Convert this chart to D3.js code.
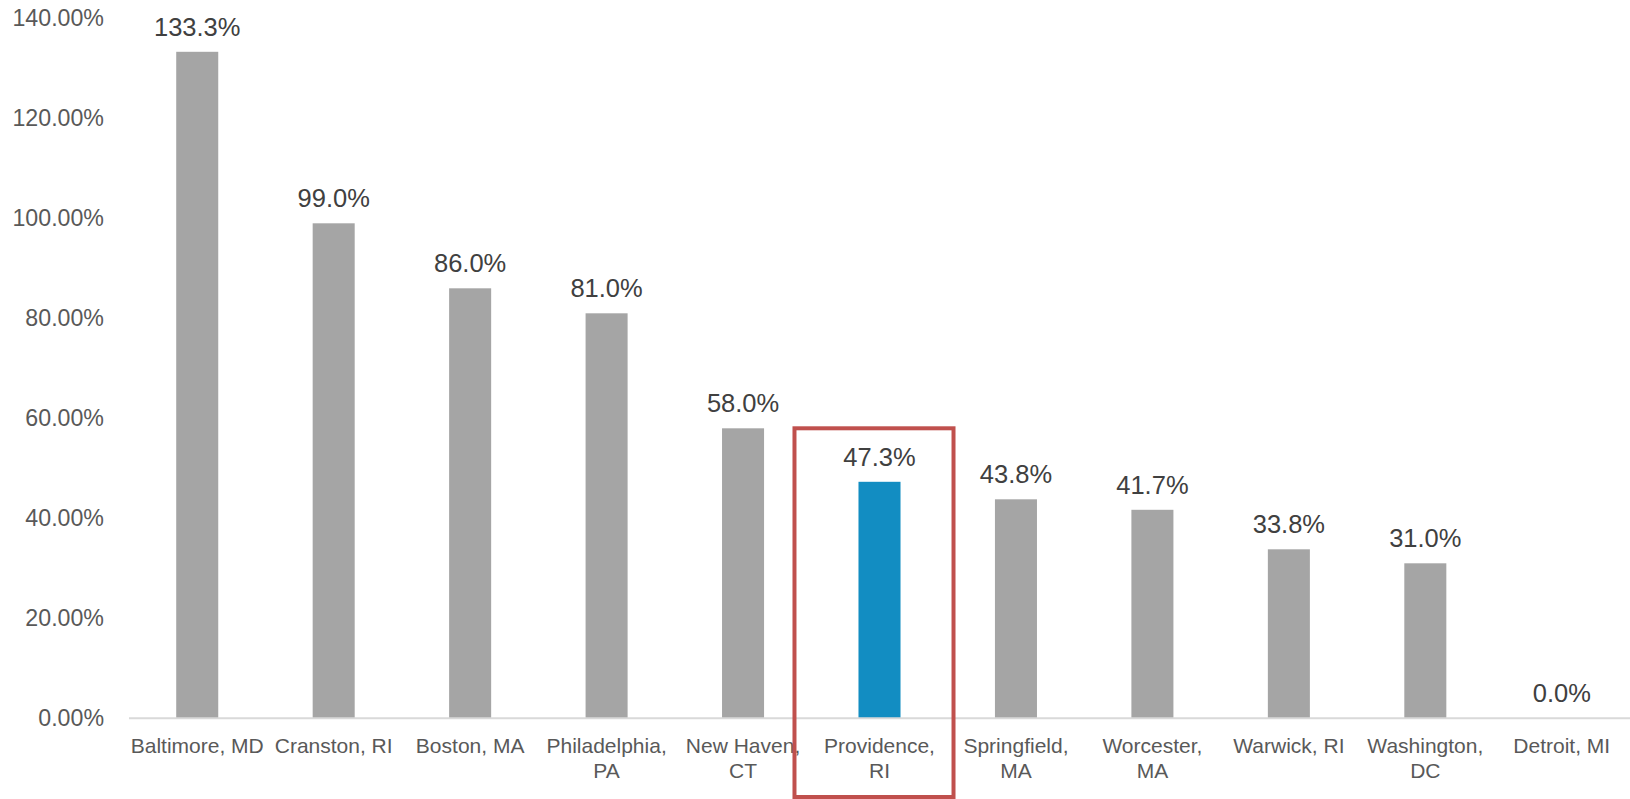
<!DOCTYPE html>
<html>
<head>
<meta charset="utf-8">
<script src="https://cdn.jsdelivr.net/npm/d3@7"></script>
<style>
  html, body { margin: 0; padding: 0; background: #ffffff; }
  svg { display: block; }
  text { font-family: "Liberation Sans", Arial, sans-serif; }
</style>
</head>
<body>
<svg id="chart" width="1630" height="799"></svg>
<script>
// ---- data ----
const categories = ["Baltimore, MD", "Cranston, RI", "Boston, MA", "Philadelphia, PA", "New Haven, CT",
  "Providence, RI", "Springfield, MA", "Worcester, MA", "Warwick, RI", "Washington, DC", "Detroit, MI"];
const values = [133.3, 99.0, 86.0, 81.0, 58.0, 47.3, 43.8, 41.7, 33.8, 31.0, 0.0];
const highlighted = ["Providence, RI"];
const yTickValues = [0, 20, 40, 60, 80, 100, 120, 140];
const yTickLabels = ["0.00%", "20.00%", "40.00%", "60.00%", "80.00%", "100.00%", "120.00%", "140.00%"];

// ---- layout ----
const W = 1630, H = 799;
const plot = { left: 129, right: 1630, top: 18.3, bottom: 718.3 };
const svg = d3.select("#chart");

const x = d3.scaleBand().domain(categories).range([plot.left, plot.right])
  .paddingInner(0.692).paddingOuter(0.346);
const y = d3.scaleLinear().domain([0, 140]).range([plot.bottom, plot.top]);

// bars
svg.append("g").selectAll("rect").data(categories).join("rect")
  .attr("x", d => x(d))
  .attr("y", (d, i) => y(values[i]))
  .attr("width", x.bandwidth())
  .attr("height", (d, i) => y(0) - y(values[i]))
  .attr("fill", d => highlighted.includes(d) ? "#128dc2" : "#a5a5a5");

// x axis line
svg.append("line")
  .attr("x1", plot.left).attr("x2", plot.right)
  .attr("y1", y(0)).attr("y2", y(0))
  .attr("stroke", "#d9d9d9").attr("stroke-width", 2);

// y axis ticks (labels only)
const yAxis = d3.axisLeft(y).tickValues(yTickValues)
  .tickFormat((d, i) => yTickLabels[i]).tickSize(0).tickPadding(0);
const yg = svg.append("g").attr("transform", `translate(104,0)`).call(yAxis);
yg.select(".domain").remove();
yg.selectAll("text")
  .attr("fill", "#595959")
  .style("font-size", "23.2px")
  .style("font-family", '"Liberation Sans", Arial, sans-serif');

// x axis category labels
const xAxis = d3.axisBottom(x).tickSize(0).tickPadding(0);
const xg = svg.append("g").attr("transform", `translate(0,${y(0)})`).call(xAxis);
xg.select(".domain").remove();
const step = x.step();
xg.selectAll("text")
  .attr("fill", "#595959")
  .style("font-size", "21px")
  .style("font-family", '"Liberation Sans", Arial, sans-serif')
  .attr("y", 0).attr("dy", null)
  .each(function(d) {
    const t = d3.select(this);
    t.text(null);
    const probe = t.append("tspan").text(d);
    const wide = probe.node().getComputedTextLength() > step - 1.5;
    probe.remove();
    const lines = wide ? [d.slice(0, d.indexOf(",") + 1), d.slice(d.indexOf(",") + 2)] : [d];
    lines.forEach((ln, k) => {
      t.append("tspan").attr("x", 0).attr("y", 35 + k * 25).text(ln);
    });
  });

// data labels
svg.append("g").selectAll("text").data(categories).join("text")
  .attr("x", d => x(d) + x.bandwidth() / 2)
  .attr("y", (d, i) => y(values[i]) - 16)
  .attr("text-anchor", "middle")
  .attr("fill", "#404040")
  .style("font-size", "25.5px")
  .text((d, i) => d3.format(".1f")(values[i]) + "%");

// highlight box around Providence
const hx = x(highlighted[0]);
svg.append("rect")
  .attr("x", hx - 64)
  .attr("y", y(58))
  .attr("width", x.bandwidth() + 117)
  .attr("height", H - 2 - y(58))
  .attr("fill", "none")
  .attr("stroke", "#c0504d")
  .attr("stroke-width", 4);
</script>
</body>
</html>
